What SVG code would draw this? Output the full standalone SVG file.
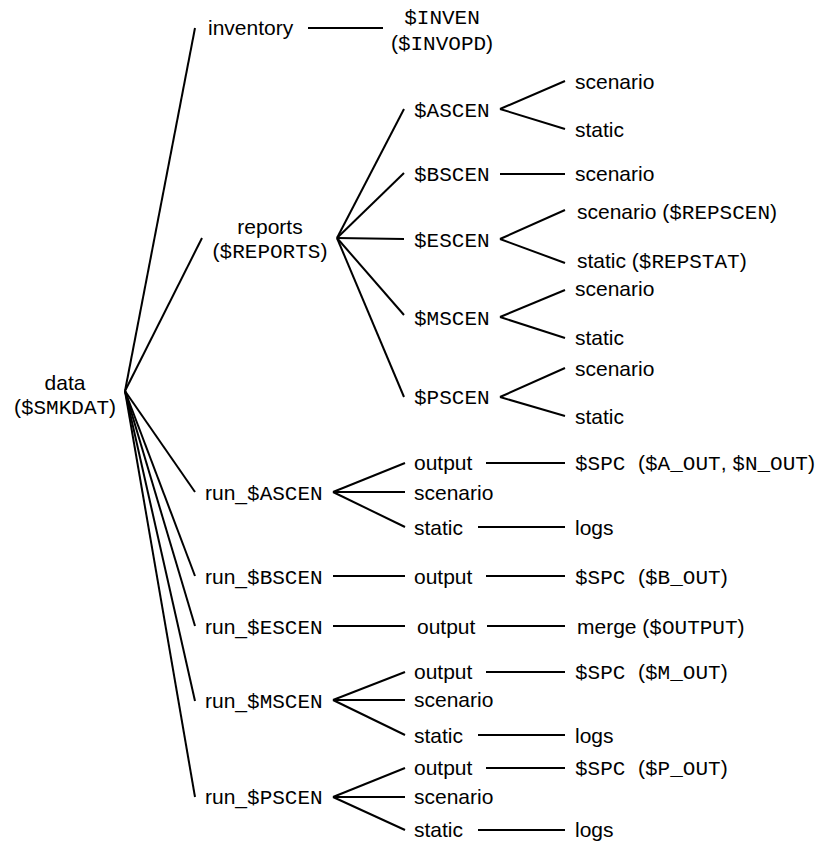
<svg xmlns="http://www.w3.org/2000/svg" width="817" height="844" viewBox="0 0 817 844">
<style>
text{fill:#000;font-size:21px}
.s{font-family:"Liberation Sans",Arial,sans-serif}
.m{font-family:"Liberation Mono","Courier New",monospace}
.c{text-anchor:middle}
#connectors line{stroke:#000;stroke-width:2;fill:none}
</style>
<rect width="817" height="844" fill="#fff"/>
<g id="connectors">
<line x1="125" y1="391" x2="195" y2="28"/>
<line x1="125" y1="391" x2="202" y2="238"/>
<line x1="125" y1="391" x2="195" y2="492"/>
<line x1="125" y1="391" x2="195" y2="576"/>
<line x1="125" y1="391" x2="195" y2="626"/>
<line x1="125" y1="391" x2="195" y2="701"/>
<line x1="125" y1="391" x2="195" y2="797"/>
<line x1="308" y1="28" x2="383" y2="28"/>
<line x1="337" y1="238" x2="404" y2="109"/>
<line x1="337" y1="238" x2="404" y2="173"/>
<line x1="337" y1="238" x2="404" y2="239"/>
<line x1="337" y1="238" x2="404" y2="315"/>
<line x1="337" y1="238" x2="404" y2="397"/>
<line x1="500" y1="109" x2="565" y2="81"/>
<line x1="500" y1="109" x2="565" y2="129"/>
<line x1="500" y1="174" x2="565" y2="174"/>
<line x1="500" y1="239" x2="565" y2="210"/>
<line x1="500" y1="239" x2="565" y2="263"/>
<line x1="500" y1="317" x2="565" y2="290"/>
<line x1="500" y1="317" x2="565" y2="338"/>
<line x1="500" y1="397" x2="565" y2="368"/>
<line x1="500" y1="397" x2="565" y2="416"/>
<line x1="333" y1="492" x2="405" y2="463"/>
<line x1="333" y1="492" x2="405" y2="492"/>
<line x1="333" y1="492" x2="405" y2="527"/>
<line x1="486" y1="463" x2="565" y2="463"/>
<line x1="478" y1="527" x2="565" y2="527"/>
<line x1="333" y1="576" x2="405" y2="576"/>
<line x1="486" y1="576" x2="565" y2="576"/>
<line x1="333" y1="626" x2="405" y2="626"/>
<line x1="487" y1="626" x2="565" y2="626"/>
<line x1="333" y1="700" x2="405" y2="672"/>
<line x1="333" y1="700" x2="405" y2="700"/>
<line x1="333" y1="700" x2="405" y2="735"/>
<line x1="486" y1="672" x2="565" y2="672"/>
<line x1="478" y1="735" x2="565" y2="735"/>
<line x1="333" y1="797" x2="405" y2="768"/>
<line x1="333" y1="797" x2="405" y2="797"/>
<line x1="333" y1="797" x2="405" y2="830"/>
<line x1="486" y1="768" x2="565" y2="768"/>
<line x1="478" y1="830" x2="565" y2="830"/>
</g>
<g id="data"><text class="s c" x="65" y="390">data</text><text class="c" x="65" y="414"><tspan class="s">(</tspan><tspan class="m">$SMKDAT</tspan><tspan class="s">)</tspan></text></g>
<g id="inventory"><text class="s" x="208" y="35">inventory</text></g>
<g id="inven"><text class="m c" x="442" y="24">$INVEN</text><text class="c" x="442" y="50"><tspan class="s">(</tspan><tspan class="m">$INVOPD</tspan><tspan class="s">)</tspan></text></g>
<g id="reports"><text class="s c" x="270" y="234">reports</text><text class="c" x="270" y="258"><tspan class="s">(</tspan><tspan class="m">$REPORTS</tspan><tspan class="s">)</tspan></text></g>
<g id="ascen"><text class="m" x="414" y="117">$ASCEN</text></g>
<g id="ascen-scenario"><text class="s" x="575" y="89">scenario</text></g>
<g id="ascen-static"><text class="s" x="575" y="137">static</text></g>
<g id="bscen"><text class="m" x="414" y="181">$BSCEN</text></g>
<g id="bscen-scenario"><text class="s" x="575" y="181">scenario</text></g>
<g id="escen"><text class="m" x="414" y="247">$ESCEN</text></g>
<g id="escen-scenario"><text x="577" y="219"><tspan class="s">scenario (</tspan><tspan class="m">$REPSCEN</tspan><tspan class="s">)</tspan></text></g>
<g id="escen-static"><text x="577" y="268"><tspan class="s">static (</tspan><tspan class="m">$REPSTAT</tspan><tspan class="s">)</tspan></text></g>
<g id="mscen"><text class="m" x="414" y="325">$MSCEN</text></g>
<g id="mscen-scenario"><text class="s" x="575" y="296">scenario</text></g>
<g id="mscen-static"><text class="s" x="575" y="345">static</text></g>
<g id="pscen"><text class="m" x="414" y="404">$PSCEN</text></g>
<g id="pscen-scenario"><text class="s" x="575" y="376">scenario</text></g>
<g id="pscen-static"><text class="s" x="575" y="424">static</text></g>
<g id="run-ascen"><text x="205" y="500"><tspan class="s">run_</tspan><tspan class="m">$ASCEN</tspan></text></g>
<g id="run-ascen-output"><text class="s" x="414" y="470">output</text></g>
<g id="run-ascen-spc"><text x="575" y="470"><tspan class="m">$SPC </tspan><tspan class="s">(</tspan><tspan class="m">$A_OUT</tspan><tspan class="s">, </tspan><tspan class="m">$N_OUT</tspan><tspan class="s">)</tspan></text></g>
<g id="run-ascen-scenario"><text class="s" x="414" y="500">scenario</text></g>
<g id="run-ascen-static"><text class="s" x="414" y="535">static</text></g>
<g id="run-ascen-logs"><text class="s" x="575" y="535">logs</text></g>
<g id="run-bscen"><text x="205" y="584"><tspan class="s">run_</tspan><tspan class="m">$BSCEN</tspan></text></g>
<g id="run-bscen-output"><text class="s" x="414" y="584">output</text></g>
<g id="run-bscen-spc"><text x="575" y="584"><tspan class="m">$SPC </tspan><tspan class="s">(</tspan><tspan class="m">$B_OUT</tspan><tspan class="s">)</tspan></text></g>
<g id="run-escen"><text x="205" y="634"><tspan class="s">run_</tspan><tspan class="m">$ESCEN</tspan></text></g>
<g id="run-escen-output"><text class="s" x="417" y="634">output</text></g>
<g id="run-escen-merge"><text x="577" y="634"><tspan class="s">merge (</tspan><tspan class="m">$OUTPUT</tspan><tspan class="s">)</tspan></text></g>
<g id="run-mscen"><text x="205" y="708"><tspan class="s">run_</tspan><tspan class="m">$MSCEN</tspan></text></g>
<g id="run-mscen-output"><text class="s" x="414" y="679">output</text></g>
<g id="run-mscen-spc"><text x="575" y="679"><tspan class="m">$SPC </tspan><tspan class="s">(</tspan><tspan class="m">$M_OUT</tspan><tspan class="s">)</tspan></text></g>
<g id="run-mscen-scenario"><text class="s" x="414" y="707">scenario</text></g>
<g id="run-mscen-static"><text class="s" x="414" y="743">static</text></g>
<g id="run-mscen-logs"><text class="s" x="575" y="743">logs</text></g>
<g id="run-pscen"><text x="205" y="804"><tspan class="s">run_</tspan><tspan class="m">$PSCEN</tspan></text></g>
<g id="run-pscen-output"><text class="s" x="414" y="775">output</text></g>
<g id="run-pscen-spc"><text x="575" y="775"><tspan class="m">$SPC </tspan><tspan class="s">(</tspan><tspan class="m">$P_OUT</tspan><tspan class="s">)</tspan></text></g>
<g id="run-pscen-scenario"><text class="s" x="414" y="804">scenario</text></g>
<g id="run-pscen-static"><text class="s" x="414" y="837">static</text></g>
<g id="run-pscen-logs"><text class="s" x="575" y="837">logs</text></g>
</svg>
